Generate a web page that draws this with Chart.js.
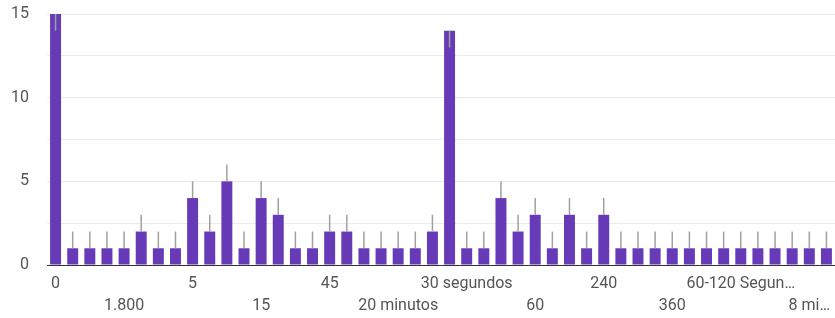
<!DOCTYPE html>
<html>
<head>
<meta charset="utf-8">
<script src="https://cdn.jsdelivr.net/npm/chart.js@4"></script>
<style>
  html, body { margin: 0; padding: 0; background: #fff; }
  #wrap { width: 835px; height: 318px; position: relative; }
</style>
</head>
<body>
<div id="wrap"><canvas id="responsesChart"></canvas></div>
<script>
// Answers (only every 4th label is shown on the axis)
const categories = [
    '0', '', '', '', '1.800', '', '', '', '5', '', '', '', '15', '', '', '',
    '45', '', '', '', '20 minutos', '', '', '', '30 segundos', '', '', '', '60', '', '', '',
    '240', '', '', '', '360', '', '', '', '60-120 Segun…', '', '', '', '8 mi…', ''
];

// Number of responses per answer
const counts = [
    15, 1, 1, 1, 1, 2, 1, 1, 4, 2, 5, 1, 4, 3, 1, 1,
    2, 2, 1, 1, 1, 1, 2, 14, 1, 1, 4, 2, 3, 1, 3, 1,
    3, 1, 1, 1, 1, 1, 1, 1, 1, 1, 1, 1, 1, 1
];

const yTicks = [0, 5, 10, 15];

const textColor = '#555555';
const barColor = '#673ab7';

// Draw the little gray stems above each bar (inside the bar when near the top)
const stemPlugin = {
    id: 'stems',
    afterDatasetsDraw(chart) {
        const ctx = chart.ctx;
        const yScale = chart.scales.y;
        const meta = chart.getDatasetMeta(0);
        ctx.save();
        ctx.strokeStyle = '#a0a0a0';
        ctx.lineWidth = 1.5;
        meta.data.forEach((bar, i) => {
            const v = counts[i];
            const end = v > 13 ? v - 1 : v + 1;
            ctx.beginPath();
            ctx.moveTo(bar.x, yScale.getPixelForValue(v));
            ctx.lineTo(bar.x, yScale.getPixelForValue(end));
            ctx.stroke();
        });
        ctx.restore();
    }
};

const ctx = document.getElementById('responsesChart').getContext('2d');

new Chart(ctx, {
    type: 'bar',
    data: {
        labels: categories,
        datasets: [{
            data: counts,
            backgroundColor: barColor,
            borderWidth: 0,
            barPercentage: 0.64,
            categoryPercentage: 1
        }]
    },
    options: {
        responsive: true,
        maintainAspectRatio: false,
        animation: false,
        layout: {
            padding: 0
        },
        plugins: {
            legend: { display: false },
            tooltip: { enabled: false }
        },
        scales: {
            x: {
                grid: { display: false, drawTicks: false },
                border: { display: true, color: '#333333', width: 1 },
                ticks: {
                    autoSkip: false,
                    maxRotation: 0,
                    minRotation: 0,
                    padding: 8,
                    color: textColor,
                    font: { family: 'Roboto', size: 16, lineHeight: '22px' },
                    callback: function(value, index) {
                        const label = categories[index];
                        if (index % 8 === 0) return [label, ''];
                        if (index % 8 === 4) return ['', label];
                        return '';
                    }
                },
                afterFit: function(scale) {
                    scale.height = 53;
                }
            },
            y: {
                min: 0,
                max: 15,
                grid: { color: '#ebebeb', drawTicks: false },
                border: { display: false },
                ticks: {
                    stepSize: 2.5,
                    padding: 18,
                    color: textColor,
                    font: { family: 'Roboto', size: 16 },
                    callback: function(value) {
                        return yTicks.includes(value) ? value : '';
                    }
                },
                afterFit: function(scale) {
                    scale.width = 47;
                    scale.paddingTop = 14;
                    scale.paddingBottom = 0;
                }
            }
        }
    },
    plugins: [stemPlugin]
});
</script>
</body>
</html>
